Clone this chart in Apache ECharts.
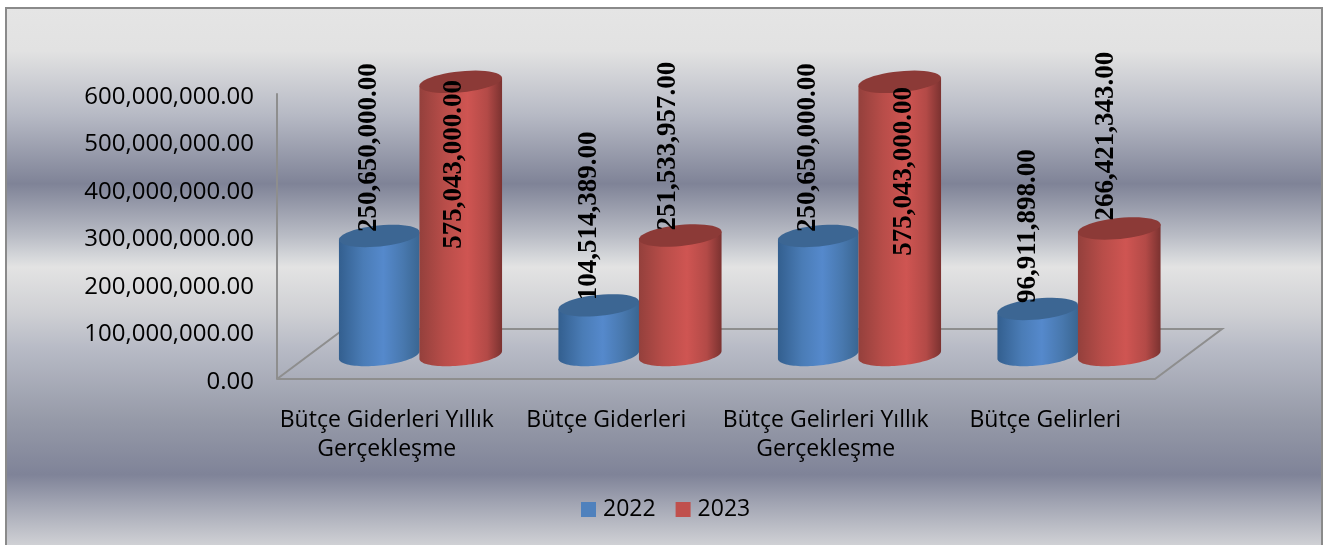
<!DOCTYPE html>
<html>
<head>
<meta charset="utf-8">
<title>Bütçe</title>
<style>
  html, body { margin: 0; padding: 0; background: #fff; }
  #chart { width: 1324px; height: 545px; }
</style>
<script src="https://cdn.jsdelivr.net/npm/echarts@6/dist/echarts.min.js"></script>
</head>
<body>
<div id="chart"></div>
<script>
var categories = [
  'Bütçe Giderleri Yıllık\nGerçekleşme',
  'Bütçe Giderleri',
  'Bütçe Gelirleri Yıllık\nGerçekleşme',
  'Bütçe Gelirleri'
];
var values2022 = [250650000, 104514389, 250650000, 96911898];
var values2023 = [575043000, 251533957, 575043000, 266421343];
var valueTicks = { min: 0, max: 600000000, interval: 100000000 };

var chart = echarts.init(document.getElementById('chart'));

function money(v) {
  return Number(v).toLocaleString('en-US', { minimumFractionDigits: 2, maximumFractionDigits: 2 });
}

function hGrad(stops) {
  return new echarts.graphic.LinearGradient(0, 0, 1, 0, stops);
}

// cylinders lean a little, the ellipses are tilted up on the right
var tilt = 0.1;
var ry = 10.5;

function ellipsePoint(cx, cy, rx, t) {
  var x = rx * Math.cos(t), y = ry * Math.sin(t);
  return [cx + x * Math.cos(tilt) + y * Math.sin(tilt), cy - x * Math.sin(tilt) + y * Math.cos(tilt)];
}

function ellipsePoints(cx, cy, rx, from, to) {
  var pts = [];
  for (var i = 0; i <= 48; i++) {
    pts.push(ellipsePoint(cx, cy, rx, from + (to - from) * i / 48));
  }
  return pts;
}

function cylinder(look) {
  return function (params, api) {
    var cat = api.value(0), val = api.value(1);
    var top = api.coord([cat, val]);
    var base = api.coord([cat, 0]);
    var cx = top[0] + look.offset;
    // side edges touch the ellipse at its left and right extremes
    var t0 = Math.atan2(ry * Math.sin(tilt), look.rx * Math.cos(tilt));
    var body = ellipsePoints(cx, base[1], look.rx, t0, t0 + Math.PI);
    body.push(ellipsePoint(cx, top[1], look.rx, t0 + Math.PI));
    body.push(ellipsePoint(cx, top[1], look.rx, t0));
    var n = look.label[cat];
    return {
      type: 'group',
      children: [
        { type: 'polygon', shape: { points: body }, style: { fill: hGrad(look.body) } },
        { type: 'polygon', shape: { points: ellipsePoints(cx, top[1], look.rx, 0, Math.PI * 2) }, style: { fill: look.cap } },
        {
          type: 'text',
          x: cx + n[0],
          y: top[1] + n[1],
          rotation: Math.PI / 2,
          z2: 10,
          style: {
            text: money(val),
            align: 'left',
            verticalAlign: 'middle',
            fill: '#000',
            font: 'bold 27px "Liberation Serif", serif'
          }
        }
      ]
    };
  };
}

function floor(params) {
  var c = params.coordSys;
  var x0 = c.x, x1 = c.x + c.width, y0 = c.y + c.height;
  var dx = 67, dy = 50;
  return {
    type: 'polyline',
    shape: { points: [[x0, y0], [x1, y0], [x1 + dx, y0 - dy], [x0 + dx, y0 - dy], [x0, y0]] },
    style: { fill: null, stroke: '#8e8e8e', lineWidth: 2 }
  };
}

function pairs(arr) {
  return arr.map(function (v, i) { return [i, v]; });
}

chart.setOption({
  animation: false,
  textStyle: { fontFamily: '"Open Sans", sans-serif' },
  graphic: [{
    type: 'rect',
    z: -10,
    shape: { x: 6, y: 8, width: 1316, height: 540 },
    style: {
      stroke: '#8a8a8a',
      lineWidth: 2,
      fill: new echarts.graphic.LinearGradient(0, 0, 0, 1, [
        { offset: 0, color: '#e5e5e5' },
        { offset: 0.081, color: '#e2e2e2' },
        { offset: 0.198, color: '#b7bac5' },
        { offset: 0.326, color: '#7f8397' },
        { offset: 0.422, color: '#b9bcc5' },
        { offset: 0.461, color: '#d5d7da' },
        { offset: 0.48, color: '#e3e3e3' },
        { offset: 0.563, color: '#cfd0d4' },
        { offset: 0.628, color: '#b8bbc6' },
        { offset: 0.757, color: '#979ba9' },
        { offset: 0.863, color: '#7f8398' },
        { offset: 0.917, color: '#a2a5b3' },
        { offset: 1, color: '#d4d5d8' }
      ])
    }
  }],
  legend: {
    data: ['2022', '2023'],
    left: 576,
    top: 493,
    icon: 'rect',
    itemWidth: 15,
    itemHeight: 15,
    itemGap: 20,
    textStyle: { fontSize: 23, color: '#000', padding: [0, 0, 0, 2], fontFamily: '"Open Sans", sans-serif' }
  },
  grid: [
    { left: 277, top: 94, width: 878, height: 285 },
    { left: 310, top: 70, width: 878, height: 285 }
  ],
  xAxis: [
    {
      type: 'category',
      gridIndex: 0,
      data: categories,
      axisTick: { show: false },
      axisLine: { show: false },
      axisLabel: { interval: 0, margin: 27, fontSize: 23, lineHeight: 29, color: '#000' }
    },
    { type: 'category', gridIndex: 1, data: categories, show: false }
  ],
  yAxis: [
    {
      type: 'value',
      gridIndex: 0,
      min: valueTicks.min,
      max: valueTicks.max,
      interval: valueTicks.interval,
      splitLine: { show: false },
      axisTick: { show: false },
      axisLine: { show: true, lineStyle: { color: '#8e8e8e', width: 2 } },
      // top-aligned with a short line box: sits a little under the tick, like the original
      axisLabel: { margin: 23, fontSize: 24, color: '#000', verticalAlign: 'top', lineHeight: 6, formatter: money }
    },
    {
      type: 'value',
      gridIndex: 1,
      min: valueTicks.min,
      max: valueTicks.max,
      show: false
    }
  ],
  series: [
    {
      type: 'custom',
      name: 'floor',
      xAxisIndex: 0,
      yAxisIndex: 0,
      data: [[0, 0]],
      silent: true,
      z: 1,
      renderItem: floor
    },
    {
      type: 'custom',
      name: '2022',
      xAxisIndex: 1,
      yAxisIndex: 1,
      data: pairs(values2022),
      encode: { x: 0, y: 1 },
      itemStyle: { color: '#4f81bd' },
      z: 2,
      renderItem: cylinder({
        offset: -40.5,
        rx: 40.5,
        cap: '#3c6693',
        body: [
          { offset: 0, color: '#335f8f' },
          { offset: 0.3, color: '#4a7cb6' },
          { offset: 0.55, color: '#5589cc' },
          { offset: 0.8, color: '#4878ae' },
          { offset: 1, color: '#3a6692' }
        ],
        label: [[-10, -4], [-10, -5], [-10, -4], [-10, -6]]
      })
    },
    {
      type: 'custom',
      name: '2023',
      xAxisIndex: 1,
      yAxisIndex: 1,
      data: pairs(values2023),
      encode: { x: 0, y: 1 },
      itemStyle: { color: '#c0504d' },
      z: 3,
      renderItem: cylinder({
        offset: 41,
        rx: 41.5,
        cap: '#8c3a37',
        body: [
          { offset: 0, color: '#94403c' },
          { offset: 0.3, color: '#b84d49' },
          { offset: 0.58, color: '#cf5552' },
          { offset: 0.82, color: '#b34a47' },
          { offset: 1, color: '#7b3230' }
        ],
        label: [[-7, 167], [-12, -5], [4, 174], [-13, -8]]
      })
    }
  ]
});
</script>
</body>
</html>
